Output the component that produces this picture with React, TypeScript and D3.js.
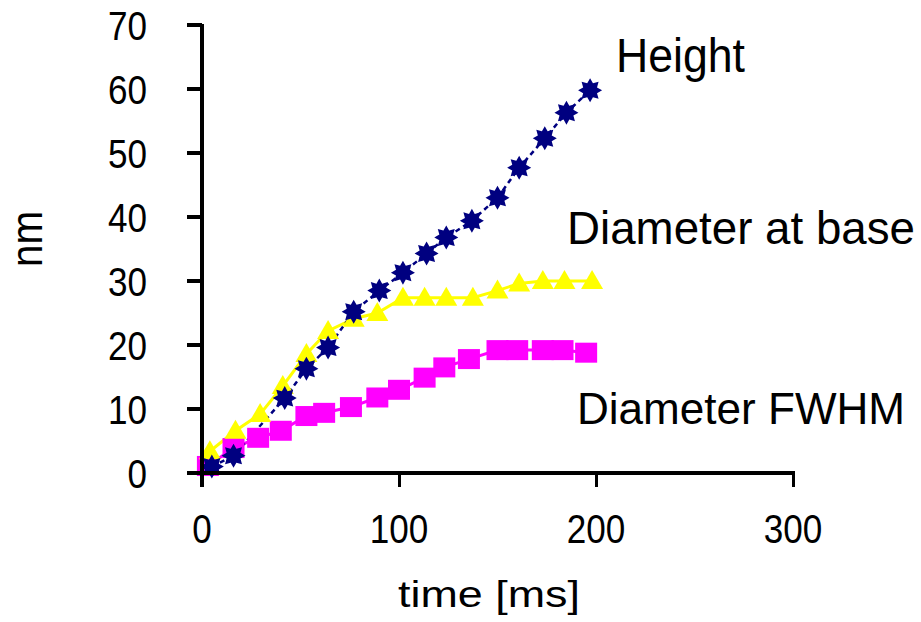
import React from "react";
import * as d3 from "d3";

const heightX = [5, 16, 42, 53, 64, 77, 90, 102, 114, 124, 137, 150, 161, 174, 185, 197];
const heightY = [1, 2.7, 11.7, 16.3, 19.6, 25.2, 28.5, 31.3, 34.3, 36.8, 39.4, 43, 47.7, 52.3, 56.3, 59.8];

const baseX = [4, 17, 29.5, 41, 53, 64, 77, 89, 102, 113, 124, 137.5, 150, 161, 173, 184, 198];
const baseY = [3.4, 6.6, 9.2, 13.6, 18.6, 22.2, 24.1, 25, 27.4, 27.4, 27.4, 27.4, 28.5, 29.6, 30, 30, 30];

const fwhmX = [3, 16, 28.5, 40, 53, 62, 75.6, 89, 100, 113, 123, 135.5, 150, 160, 173, 183, 195];
const fwhmY = [1.1, 3.9, 5.5, 6.6, 8.9, 9.4, 10.3, 11.8, 13, 14.9, 16.5, 17.8, 19.2, 19.2, 19.2, 19.2, 18.8];

const xTicks = [0, 100, 200, 300];
const yTicks = [0, 10, 20, 30, 40, 50, 60, 70];

const FONT = "'Liberation Sans', Arial, sans-serif";

function starPath(outer: number, inner: number, n: number) {
  const pts: [number, number][] = [];
  for (let i = 0; i < n * 2; i++) {
    const r = i % 2 === 0 ? outer : inner;
    const a = (Math.PI * i) / n - Math.PI / 2;
    pts.push([r * Math.cos(a), r * Math.sin(a)]);
  }
  return "M" + pts.map((p) => p.join(",")).join("L") + "Z";
}

export default function App() {
  const x = d3.scaleLinear().domain([0, 300]).range([202, 793]);
  const y = d3.scaleLinear().domain([0, 70]).range([473, 25]);

  const mk = (xs: number[], ys: number[]) =>
    d3
      .line<number>()
      .x((i) => x(xs[i]))
      .y((i) => y(ys[i]))(xs.map((_, i) => i)) || "";

  const star = starPath(12, 7.5, 8);
  const tri = "M0,-11L11,8L-11,8Z";

  return (
    <svg
      width={921}
      height={622}
      style={{ display: "block", position: "absolute", left: 0, top: 0 }}
      fontFamily={FONT}
    >
      <rect width={921} height={622} fill="#fff" />
      {/* series lines */}
      <path d={mk(fwhmX, fwhmY)} fill="none" stroke="#ff00ff" strokeWidth={3} />
      <path d={mk(baseX, baseY)} fill="none" stroke="#ffff00" strokeWidth={3} />
      <path d={mk(heightX, heightY)} fill="none" stroke="#000080" strokeWidth={2.5} strokeDasharray="5,4" />
      {/* markers */}
      {fwhmX.map((v, i) => (
        <rect key={"f" + i} x={x(v) - 11} y={y(fwhmY[i]) - 10} width={22} height={20} fill="#ff00ff" />
      ))}
      {baseX.map((v, i) => (
        <path key={"b" + i} d={tri} transform={`translate(${x(v)},${y(baseY[i])})`} fill="#ffff00" />
      ))}
      {heightX.map((v, i) => (
        <path key={"h" + i} d={star} transform={`translate(${x(v)},${y(heightY[i])})`} fill="#000080" />
      ))}
      {/* axes */}
      <g shapeRendering="crispEdges" fill="#000">
        <rect x={200} y={24} width={4} height={463} />
        <rect x={187} y={471} width={608} height={4} />
        {yTicks.map((t) => (
          <rect key={"yt" + t} x={187} y={y(t) - 2} width={15} height={4} />
        ))}
        {xTicks.map((t) => (
          <rect key={"xt" + t} x={x(t) - 1.5} y={471} width={3} height={16} />
        ))}
      </g>
      {/* tick labels */}
      {yTicks.map((t) => (
        <text
          key={"yl" + t}
          x={147}
          y={y(t) + 15}
          textAnchor="end"
          fontSize={41}
          textLength={String(t).length * 19.5}
          lengthAdjust="spacingAndGlyphs"
        >
          {t}
        </text>
      ))}
      {xTicks.map((t) => (
        <text
          key={"xl" + t}
          x={x(t)}
          y={543}
          textAnchor="middle"
          fontSize={41}
          textLength={String(t).length * 19.5}
          lengthAdjust="spacingAndGlyphs"
        >
          {t}
        </text>
      ))}
      {/* axis titles */}
      <text x={489} y={607} textAnchor="middle" fontSize={36} textLength={182} lengthAdjust="spacingAndGlyphs">
        time [ms]
      </text>
      <text
        transform="translate(42,239) rotate(-90)"
        textAnchor="middle"
        fontSize={44}
        textLength={56}
        lengthAdjust="spacingAndGlyphs"
      >
        nm
      </text>
      {/* series labels */}
      <text x={616} y={72} fontSize={48} textLength={129} lengthAdjust="spacingAndGlyphs">
        Height
      </text>
      <text x={567} y={244} fontSize={46} textLength={348} lengthAdjust="spacingAndGlyphs">
        Diameter at base
      </text>
      <text x={577} y={424} fontSize={45} textLength={328} lengthAdjust="spacingAndGlyphs">
        Diameter FWHM
      </text>
    </svg>
  );
}
